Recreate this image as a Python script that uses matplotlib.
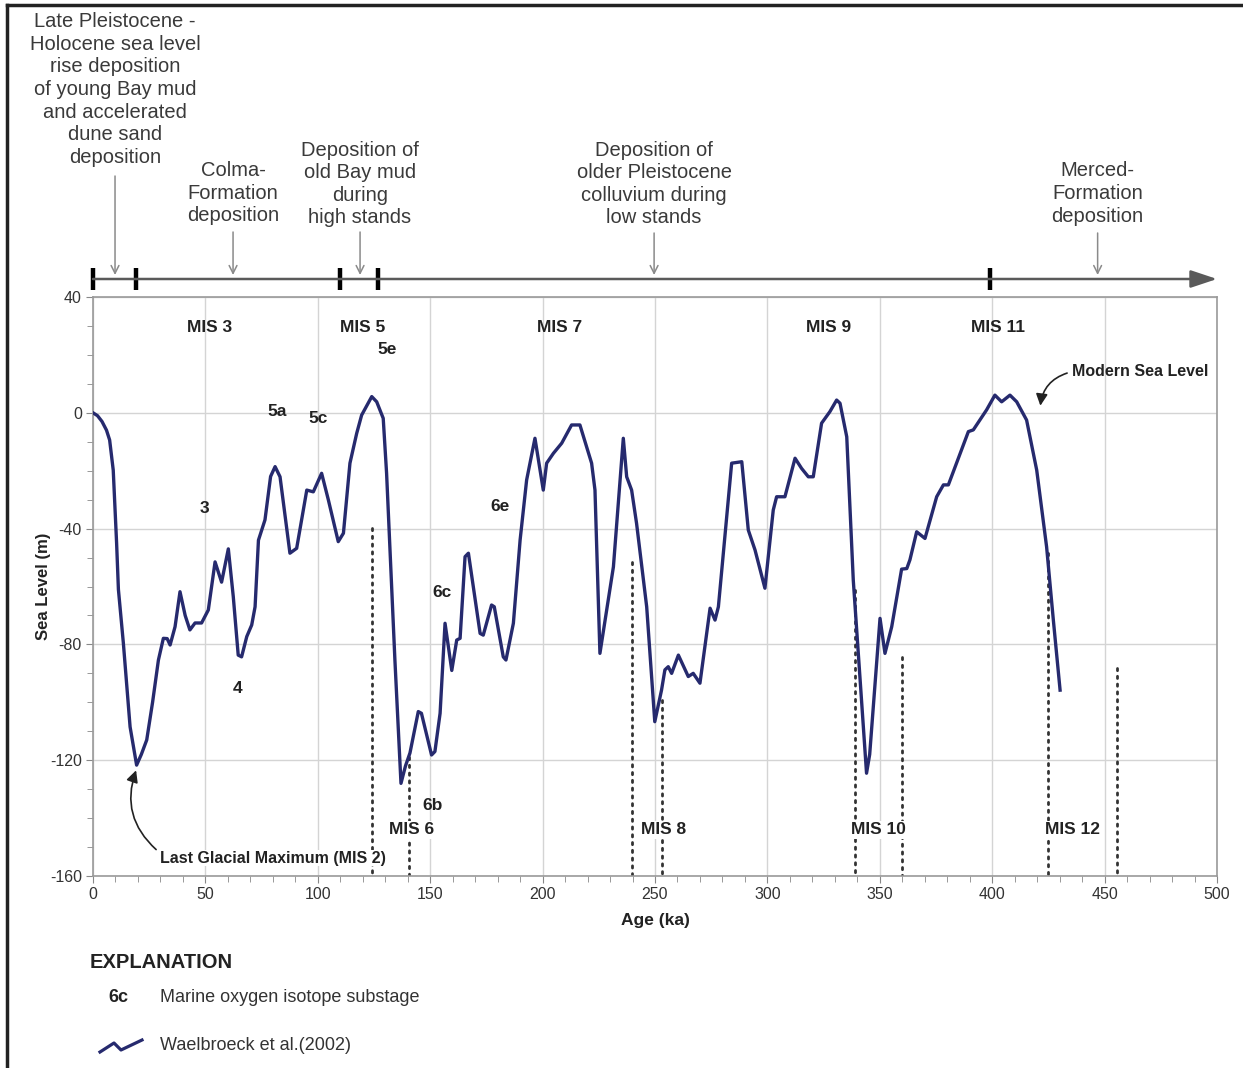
import matplotlib
matplotlib.use("Agg")
import matplotlib.pyplot as plt
from matplotlib.lines import Line2D
from matplotlib.ticker import MultipleLocator

plt.rcParams['font.family'] = ['Liberation Sans', 'DejaVu Sans']
plt.rcParams['axes.unicode_minus'] = False

# ---------------- data ----------------
age_ka = [0, 2, 4, 6, 7.4, 9, 10.5, 11.3, 13.5, 16.5, 19.4, 21.5, 23.9, 26.5, 29.1,
          31.3, 33, 34.3, 36.5, 38.7, 41, 43.1, 45.4, 48.3, 51.3, 54.3, 57.2, 60.2,
          62.4, 64.6, 66.1, 68.4, 70.6, 72.1, 73.6, 76.5, 79, 81, 83.2, 87.6, 90.6,
          95.1, 98, 101.7, 104.7, 109.1, 111.4, 114.3, 117.3, 119.5, 124, 126.2,
          129.1, 130.6, 132.9, 134.3, 137, 139, 141, 144.7, 146.1, 150.6, 152.1,
          154.4, 156.6, 159.6, 161.8, 163.3, 165.5, 167, 172.2, 173.6, 177.3, 178.5,
          182.5, 183.7, 187, 190, 192.9, 196.6, 200.3, 201.8, 204.8, 208.5, 212.9,
          216.6, 221.8, 223.3, 225.5, 228.5, 231.5, 235.9, 237.4, 239.6, 241.8,
          246.3, 249.9, 252.9, 254.4, 255.9, 257.4, 260.4, 264.8, 267, 270, 274.5,
          276.7, 278.2, 284.1, 288.6, 291.5, 294.5, 298.9, 302.6, 304.1, 307.8,
          312.3, 315.2, 318.2, 320.4, 324.1, 327.8, 330.8, 332.3, 335.3, 338.2,
          344.1, 345.5, 350.1, 352.3, 355.3, 359.7, 362, 363.4, 366.4, 370.1,
          375.3, 378.3, 380.5, 389.4, 391.6, 397.5, 401.2, 404.2, 407.9, 410.9,
          415.3, 419.8, 424.2, 427.2, 430.2]
sea_level_m = [0, -1, -3, -6, -9.4, -19.8, -45, -61, -79.5, -108.5, -121.7, -118, -113,
               -100, -85.4, -77.9, -78, -80.2, -73.9, -61.8, -70, -75, -72.6, -72.6,
               -68.1, -51.5, -58.5, -47, -63.5, -83.7, -84.3, -77.3, -73.3, -67, -44,
               -37, -22, -18.6, -22.1, -48.5, -46.8, -26.7, -27.3, -20.9, -30.1, -44.5,
               -41.6, -17.4, -7.1, -0.8, 5.6, 3.8, -1.9, -20.9, -61.2, -85.4, -128,
               -122, -117.5, -103.2, -103.8, -118.2, -117, -103.8, -72.7, -89, -78.5,
               -77.9, -49.7, -48.5, -76.2, -76.8, -66.4, -67, -84.3, -85.4, -72.7,
               -43.9, -23.2, -8.8, -26.7, -17.4, -14, -10.5, -4.2, -4.2, -17.4, -26.7,
               -83.1, -68.1, -53.2, -8.8, -22.1, -26.7, -38.2, -67, -106.7, -95.8,
               -88.8, -87.7, -90, -83.7, -91.1, -90, -93.4, -67.5, -71.6, -67, -17.4,
               -16.9, -40.5, -47.4, -60.6, -33.6, -29, -29, -15.7, -19.2, -22.1, -22.1,
               -3.6, 0.4, 4.4, 3.3, -8.3, -57.8, -124.5, -118, -71, -83.1, -73.9, -54,
               -53.8, -50.8, -41.1, -43.4, -29, -24.9, -24.9, -6.5, -5.9, 1, 6.1, 3.8,
               6.1, 3.8, -2.5, -19.8, -46.3, -71.6, -95.8]

# MIS boundary dotted lines (age, top of line)
boundary_ages = [124.3, 140.6, 239.8, 252.9, 339, 359.7, 425, 455.4]
boundary_tops = [-39.8, -119, -51.4, -99.2, -61.2, -84.2, -48.5, -88.3]

# MIS / substage labels (text, age, level)
stage_labels = ["MIS 3", "MIS 5", "MIS 7", "MIS 9", "MIS 11",
                "MIS 6", "MIS 8", "MIS 10", "MIS 12"]
stage_x = [52.0, 120.1, 207.7, 327.4, 402.6, 141.5, 254.0, 349.2, 435.5]
stage_y = [29.6, 29.6, 29.6, 29.6, 29.6, -144.1, -144.1, -144.1, -144.1]

substage_labels = ["5e", "5a", "5c", "3", "4", "6e", "6c", "6b"]
substage_x = [130.8, 81.9, 100.1, 49.4, 64.1, 181.0, 155.2, 151.2]
substage_y = [21.7, 0.3, -2.1, -33.2, -95.4, -32.5, -62.2, -135.8]

# Top deposition timeline
timeline_ticks = [0, 19, 110, 127, 399]
deposition_texts = ["Late Pleistocene -\nHolocene sea level\nrise deposition\nof young Bay mud\nand accelerated\ndune sand\ndeposition",
                    "Colma-\nFormation\ndeposition",
                    "Deposition of\nold Bay mud\nduring\nhigh stands",
                    "Deposition of\nolder Pleistocene\ncolluvium during\nlow stands",
                    "Merced-\nFormation\ndeposition"]
deposition_ages = [9.8, 62.3, 118.8, 249.6, 446.9]

x_ticks = [0, 50, 100, 150, 200, 250, 300, 350, 400, 450, 500]
y_ticks = [40, 0, -40, -80, -120, -160]

# ---------------- figure ----------------
W, H = 1243, 1068
fig = plt.figure(figsize=(W / 100, H / 100), dpi=100)
L, R, T, B = 93, 1217, 297, 876
ax = fig.add_axes([L / W, 1 - B / H, (R - L) / W, (B - T) / H])

def fy(py):  # pixel y -> axes fraction
    return (B - py) / (B - T)

line_color = '#262a6e'
ax.plot(age_ka, sea_level_m, color=line_color, lw=2.4, zorder=4,
        solid_joinstyle='round')

for a, top in zip(boundary_ages, boundary_tops):
    ax.plot([a, a], [top, -160], color='#333333', lw=2.0,
            linestyle=(0, (0.8, 2.0)), dash_capstyle='round', zorder=2)

ax.set_xlim(0, 500)
ax.set_ylim(-160, 40)
ax.xaxis.set_major_locator(MultipleLocator(50))
ax.xaxis.set_minor_locator(MultipleLocator(10))
ax.yaxis.set_major_locator(MultipleLocator(40))
ax.yaxis.set_minor_locator(MultipleLocator(10))
ax.set_xticks(x_ticks)
ax.set_yticks(y_ticks)
ax.grid(True, which='major', color='#d4d4d4', lw=1.0, zorder=0)
ax.set_axisbelow(True)
for s in ax.spines.values():
    s.set_color('#9a9a9a')
    s.set_linewidth(1.2)
ax.tick_params(which='both', direction='out', color='#888888', labelsize=11.5,
               labelcolor='#333333')
ax.tick_params(which='major', length=5, pad=3)
ax.tick_params(which='minor', length=4)
ax.set_xlabel('Age (ka)', fontsize=12.5, fontweight='bold', color='#222222', labelpad=8)
ax.set_ylabel('Sea Level (m)', fontsize=12, fontweight='bold', color='#222222', labelpad=-1)

# stage labels
white_box = dict(facecolor='white', edgecolor='none', pad=1.0)
for t, x, y in zip(stage_labels, stage_x, stage_y):
    ax.text(x, y, t, ha='center', va='center', fontsize=12.5, fontweight='bold',
            color='#222222', bbox=white_box if y < -100 else None, zorder=5)
for t, x, y in zip(substage_labels, substage_x, substage_y):
    ax.text(x, y, t, ha='center', va='center', fontsize=12.5, fontweight='bold',
            color='#222222', zorder=5)

# Modern sea level annotation
ax.text(435.4, 14.1, 'Modern Sea Level', ha='left', va='center', fontsize=11.5,
        fontweight='bold', color='#222222')
ax.annotate('', xy=(421.3, 1.5), xytext=(434.5, 14.0),
            arrowprops=dict(arrowstyle='-|>,head_length=0.5,head_width=0.25',
                            color='#222222', lw=1.2,
                            connectionstyle='arc3,rad=0.35', mutation_scale=14))

# Last Glacial Maximum annotation
ax.text(29.8, -153.8, 'Last Glacial Maximum (MIS 2)', ha='left', va='center',
        fontsize=11.5, fontweight='bold', color='#222222',
        bbox=dict(facecolor='white', edgecolor='none', pad=0.5))
ax.annotate('', xy=(19.6, -122.6), xytext=(29.0, -151.5),
            arrowprops=dict(arrowstyle='-|>,head_length=0.5,head_width=0.25',
                            color='#222222', lw=1.2,
                            connectionstyle='arc3,rad=-0.35', mutation_scale=14))

# top timeline
trans = ax.get_xaxis_transform()
ax.annotate('', xy=(500, fy(279)), xytext=(0, fy(279)), xycoords=trans,
            textcoords=trans, annotation_clip=False,
            arrowprops=dict(arrowstyle='-|>,head_length=0.9,head_width=0.3',
                            color='#5a5a5a', lw=1.8, mutation_scale=18,
                            shrinkA=0, shrinkB=0))
for t in timeline_ticks:
    ax.plot([t, t], [fy(268), fy(290)], transform=trans, color='black', lw=3.2,
            clip_on=False, solid_capstyle='butt')

text_centers = [89.5, 193, 184, 184, 193.5]
arrow_starts = [176, 232, 232, 233, 233]
for txt, a, cy, ay in zip(deposition_texts, deposition_ages, text_centers, arrow_starts):
    ax.text(a, fy(cy), txt, transform=trans, ha='center', va='center',
            multialignment='center', fontsize=14.5, color='#3a3a3a',
            linespacing=1.24, clip_on=False)
    ax.annotate('', xy=(a, fy(275)), xytext=(a, fy(ay)), xycoords=trans,
                textcoords=trans, annotation_clip=False,
                arrowprops=dict(arrowstyle='->,head_length=0.4,head_width=0.2',
                                color='#8a8a8a', lw=1.1, mutation_scale=14,
                                shrinkA=0, shrinkB=0))

# figure border (top and left)
fig.add_artist(Line2D([7 / W, 7 / W], [0, 1 - 5 / H], transform=fig.transFigure,
                      color='#222222', lw=2.5))
fig.add_artist(Line2D([7 / W, 1], [1 - 5 / H, 1 - 5 / H], transform=fig.transFigure,
                      color='#222222', lw=2.5))

# explanation
fig.text(90 / W, 1 - 962 / H, 'EXPLANATION', ha='left', va='center', fontsize=14.5,
         fontweight='bold', color='#222222')
fig.text(108 / W, 1 - 997 / H, '6c', ha='left', va='center', fontsize=13,
         fontweight='bold', color='#222222')
fig.text(160 / W, 1 - 997 / H, 'Marine oxygen isotope substage', ha='left',
         va='center', fontsize=13, color='#333333')
sq_x = [100, 114, 121, 142]
sq_y = [1052, 1043, 1050, 1040]
fig.add_artist(Line2D([v / W for v in sq_x], [1 - v / H for v in sq_y],
                      transform=fig.transFigure, color=line_color, lw=2.3))
fig.text(160 / W, 1 - 1046 / H, 'Waelbroeck et al.(2002)', ha='left', va='center',
         fontsize=13, color='#333333')

fig.savefig('out.png', dpi=100, facecolor='white')
